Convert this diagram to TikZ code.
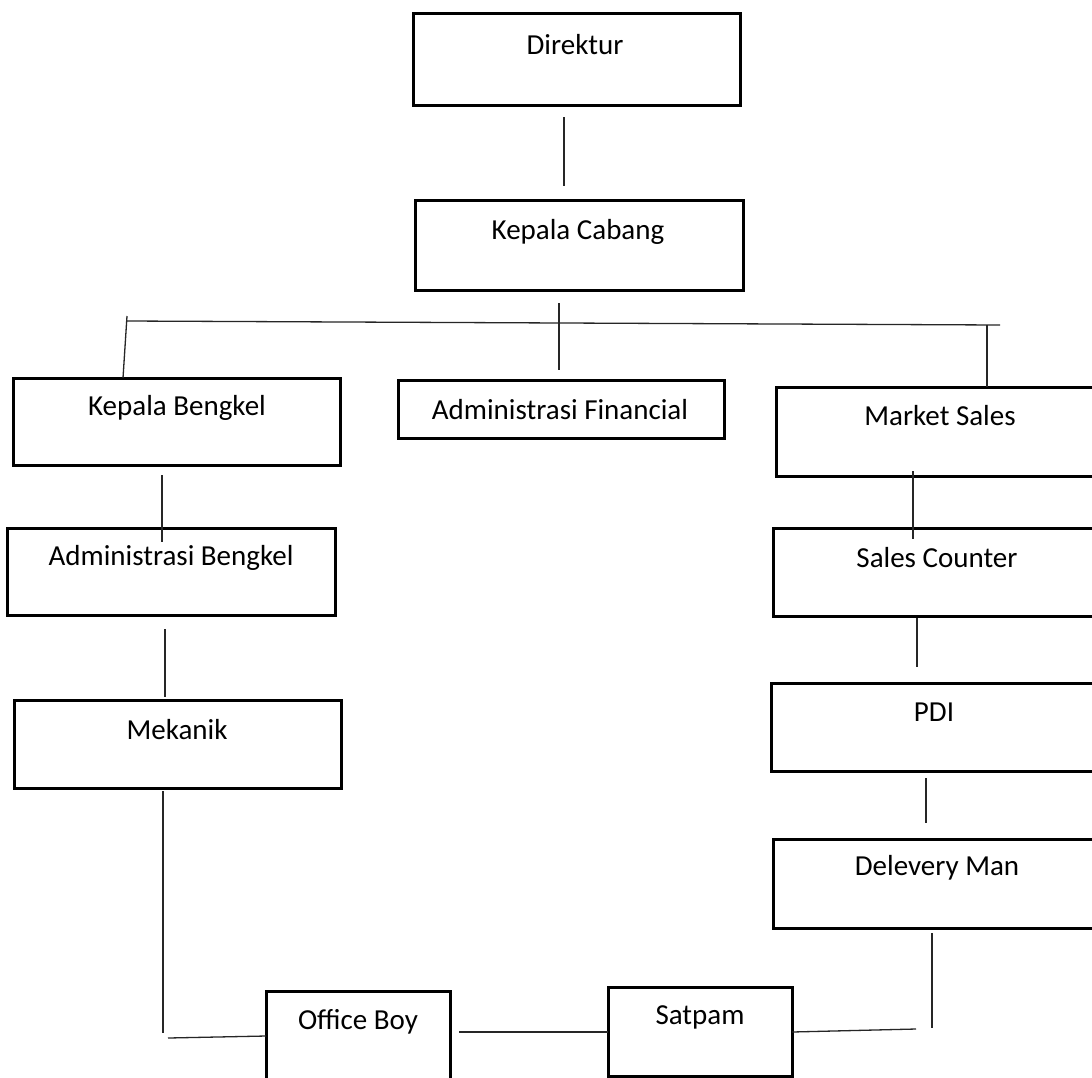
\documentclass[tikz,border=0pt]{standalone}
\usepackage{fontspec}
\setmainfont{Carlito}
\tikzset{
  orgbox/.style={draw, line width=3pt, rectangle, inner sep=0pt, fill=white},
  orgtext/.style={inner sep=0pt, font=\fontsize{29}{34}\selectfont},
  conn/.style={line width=1.3pt, draw=black!85}
}
\begin{document}
\begin{tikzpicture}[x=1pt,y=-1pt]
\clip (0,0) rectangle (1092,1077);
\fill[white] (0,0) rectangle (1092,1077);
% boxes
\node[orgbox, minimum width=327pt, minimum height=92pt] (dir) at (576.5,59) {};
\node[orgtext] (dirt) at (575,45) {Direktur};
\node[orgbox, minimum width=328pt, minimum height=90pt] (kc) at (579,245) {};
\node[orgtext] (kct) at (578,232) {Kepala Cabang};
\node[orgbox, minimum width=327pt, minimum height=87pt] (kb) at (176.5,421.5) {};
\node[orgtext] (kbt) at (177,408) {Kepala Bengkel};
\node[orgbox, minimum width=326pt, minimum height=58pt] (af) at (561,409) {};
\node[orgtext] (aft) at (560,410) {Administrasi Financial};
\node[orgbox, minimum width=324pt, minimum height=89pt] (ms) at (938,431.5) {};
\node[orgtext] (mst) at (940,416) {Market Sales};
\node[orgbox, minimum width=327pt, minimum height=88pt] (sc) at (936.5,572) {};
\node[orgtext] (sct) at (937,558) {Sales Counter};
\node[orgbox, minimum width=328pt, minimum height=87pt] (ab) at (171,571.5) {};
\node[orgtext] (abt) at (171,558) {Administrasi Bengkel};
\node[orgbox, minimum width=327pt, minimum height=88pt] (mk) at (177.5,744) {};
\node[orgtext] (mkt) at (177,730) {Mekanik};
\node[orgbox, minimum width=329pt, minimum height=88pt] (pdi) at (935.5,727) {};
\node[orgtext] (pdit) at (934,712) {PDI};
\node[orgbox, minimum width=327pt, minimum height=89pt] (dm) at (936.5,883.5) {};
\node[orgtext] (dmt) at (937,868) {Delevery Man};
\node[orgbox, minimum width=184pt, minimum height=99pt] (ob) at (358,1040.5) {};
\node[orgtext] (obt) at (358,1022) {Office Boy};
\node[orgbox, minimum width=184pt, minimum height=89pt] (sp) at (700,1031.5) {};
\node[orgtext] (spt) at (700,1017) {Satpam};
% free ends
\coordinate (c1) at (564,117); \coordinate (c2) at (564,186);
\coordinate (b0) at (127,316); \coordinate (b1) at (127,321); \coordinate (b2) at (1000,325);
\coordinate (b3) at (123,378);
\coordinate (m1) at (559,303); \coordinate (m2) at (559,370);
\coordinate (r1) at (987,325); \coordinate (r2) at (987,387);
\coordinate (k1) at (162,475); \coordinate (k2) at (162,542);
\coordinate (a1) at (165,629); \coordinate (a2) at (165,697);
\coordinate (s1) at (913,471); \coordinate (s2) at (913,539);
\coordinate (p1) at (917,618); \coordinate (p2) at (917,667);
\coordinate (d1) at (926,778); \coordinate (d2) at (926,823);
\coordinate (e1) at (163,791); \coordinate (e2) at (163,1033);
\coordinate (f1) at (168,1038); \coordinate (f2) at (266,1036);
\coordinate (g1) at (459,1032); \coordinate (g2) at (608,1032);
\coordinate (h1) at (792,1032); \coordinate (h2) at (916,1029);
\coordinate (j1) at (932,933); \coordinate (j2) at (932,1028);
% connectors
\draw[conn] (c1) -- (c2);
\draw[conn] (b1) -- (b2);
\draw[conn] (b0) -- (b3);
\draw[conn] (m1) -- (m2);
\draw[conn] (r1) -- (r2);
\draw[conn] (k1) -- (k2);
\draw[conn] (a1) -- (a2);
\draw[conn] (s1) -- (s2);
\draw[conn] (p1) -- (p2);
\draw[conn] (d1) -- (d2);
\draw[conn] (e1) -- (e2);
\draw[conn] (f1) -- (f2);
\draw[conn] (g1) -- (g2);
\draw[conn] (h1) -- (h2);
\draw[conn] (j1) -- (j2);
\end{tikzpicture}
\end{document}
